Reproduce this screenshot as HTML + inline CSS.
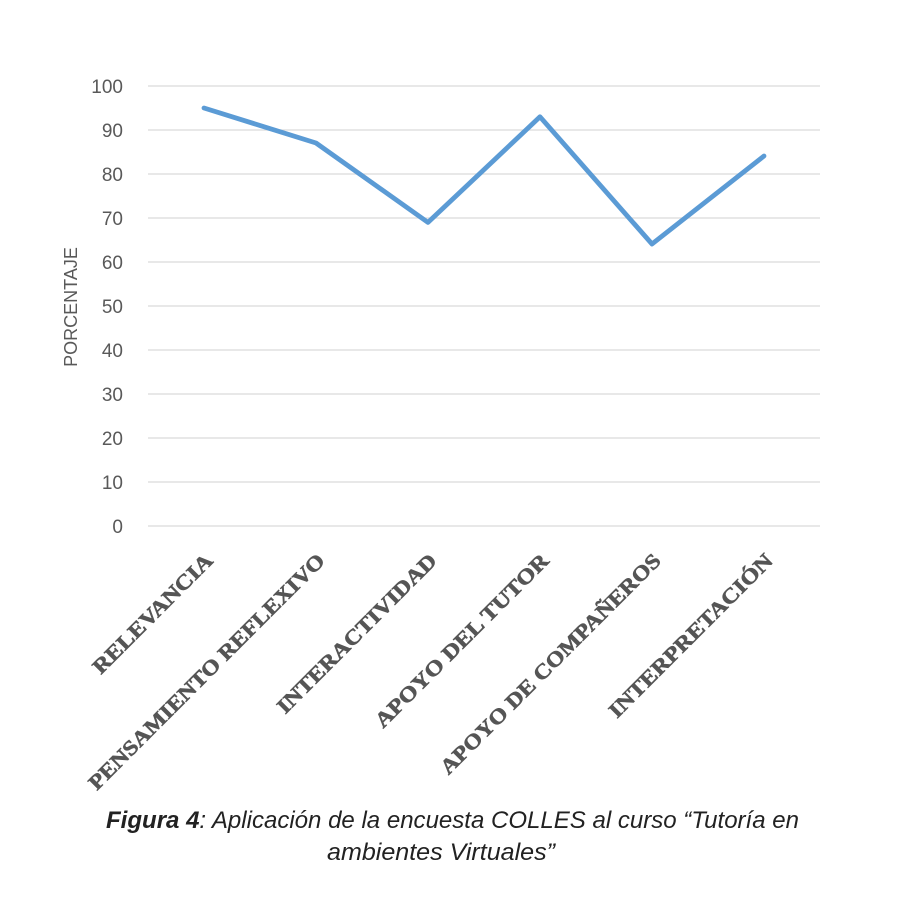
<!DOCTYPE html>
<html><head><meta charset="utf-8"><style>
body{margin:0;background:#fff;}
</style></head><body>
<svg width="900" height="900" xmlns="http://www.w3.org/2000/svg">
<rect width="900" height="900" fill="#fff"/>
<g stroke="#d9d9d9" stroke-width="1.3">
<line x1="148" x2="820" y1="86" y2="86"/><line x1="148" x2="820" y1="130" y2="130"/>
<line x1="148" x2="820" y1="174" y2="174"/><line x1="148" x2="820" y1="218" y2="218"/>
<line x1="148" x2="820" y1="262" y2="262"/><line x1="148" x2="820" y1="306" y2="306"/>
<line x1="148" x2="820" y1="350" y2="350"/><line x1="148" x2="820" y1="394" y2="394"/>
<line x1="148" x2="820" y1="438" y2="438"/><line x1="148" x2="820" y1="482" y2="482"/>
<line x1="148" x2="820" y1="526" y2="526"/>
</g>
<g font-family="Liberation Sans, sans-serif" font-size="19" fill="#595959" text-anchor="end">
<text x="123" y="93">100</text><text x="123" y="137">90</text><text x="123" y="181">80</text>
<text x="123" y="225">70</text><text x="123" y="269">60</text><text x="123" y="313">50</text>
<text x="123" y="357">40</text><text x="123" y="401">30</text><text x="123" y="445">20</text>
<text x="123" y="489">10</text><text x="123" y="533">0</text>
</g>
<text transform="translate(77,307) rotate(-90)" text-anchor="middle" font-family="Liberation Sans, sans-serif" font-size="18" fill="#595959">PORCENTAJE</text>
<polyline points="204,108 316,143 428,222.4 540,116.8 652,244 764,156" fill="none" stroke="#5b9bd5" stroke-width="4.8" stroke-linejoin="round" stroke-linecap="round"/>
<g font-family="Liberation Serif, serif" font-weight="bold" font-size="21" fill="#555" stroke="#555" stroke-width="0.6" text-anchor="end">
<text transform="translate(214,562) rotate(-45)" textLength="160" lengthAdjust="spacingAndGlyphs">RELEVANCIA</text>
<text transform="translate(326,562) rotate(-45)" textLength="324" lengthAdjust="spacingAndGlyphs">PENSAMIENTO REFLEXIVO</text>
<text transform="translate(438,562) rotate(-45)" textLength="216" lengthAdjust="spacingAndGlyphs">INTERACTIVIDAD</text>
<text transform="translate(550,562) rotate(-45)" textLength="236" lengthAdjust="spacingAndGlyphs">APOYO DEL TUTOR</text>
<text transform="translate(662,562) rotate(-45)" textLength="302" lengthAdjust="spacingAndGlyphs">APOYO DE COMPAÑEROS</text>
<text transform="translate(774,562) rotate(-45)" textLength="222" lengthAdjust="spacingAndGlyphs">INTERPRETACIÓN</text>
</g>
<g font-family="Liberation Sans Narrow, Liberation Sans, sans-serif" font-style="italic" font-size="24" fill="#222">
<text x="106" y="828" textLength="693" lengthAdjust="spacingAndGlyphs"><tspan font-weight="bold">Figura 4</tspan>: Aplicación de la encuesta COLLES al curso “Tutoría en</text>
<text x="327" y="860" textLength="228" lengthAdjust="spacingAndGlyphs">ambientes Virtuales”</text>
</g>
</svg>
</body></html>
